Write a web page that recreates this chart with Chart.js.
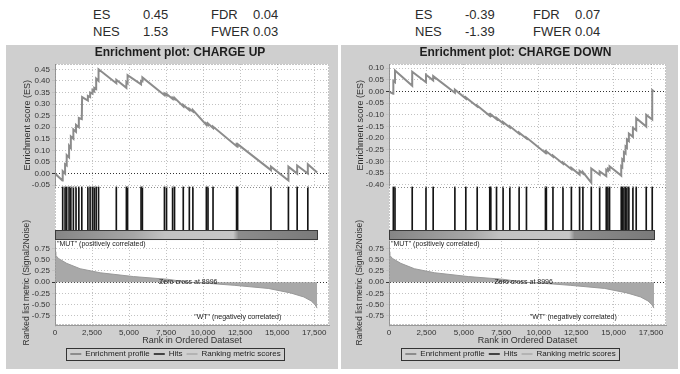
<!DOCTYPE html>
<html lang="en">
<head>
<meta charset="UTF-8">
<meta name="viewport" content="width=device-width, initial-scale=1.0">
<title>Enrichment plots: CHARGE UP / CHARGE DOWN</title>
<script src="https://cdn.jsdelivr.net/npm/chart.js"></script>
<style>
  body { margin: 0; background: #fff; font-family: "Liberation Sans", Arial, sans-serif; }
  #page { position: relative; width: 680px; height: 374px; overflow: hidden; }
  .stat { position: absolute; font-size: 13px; line-height: 16px; color: #2b2b2b; white-space: nowrap; }
  canvas { position: absolute; background: #cfcfcf; }
</style>
</head>
<body>
<div id="page">
  <canvas id="up" width="332" height="324" style="left:6px; top:45px"></canvas>
  <canvas id="down" width="337" height="324" style="left:341px; top:45px"></canvas>
</div>

<script>
    // ranked gene list, shared by both plots
    const listSize = 17700;
    const zeroCross = 8996;
    const metricRanks  = [0, 50, 230, 790, 1700, 3050, 5300, 7600, 8996, 10500, 12100, 14400, 15900, 16800, 17300, 17550, 17700];
    const metricValues = [0.68, 0.60, 0.53, 0.42, 0.30, 0.21, 0.125, 0.065, 0, -0.03, -0.07, -0.14, -0.24, -0.33, -0.42, -0.50, -0.58];

    const xTickValues = [0, 2500, 5000, 7500, 10000, 12500, 15000, 17500];
    const esTicksUp   = [-0.05, 0, 0.05, 0.1, 0.15, 0.2, 0.25, 0.3, 0.35, 0.4, 0.45];
    const esTicksDown = [-0.4, -0.35, -0.3, -0.25, -0.2, -0.15, -0.1, -0.05, 0, 0.05, 0.1];
    const rankTicks   = [-0.75, -0.5, -0.25, 0, 0.25, 0.5, 0.75];

    // CHARGE UP
    const hitsUp = [520, 680, 790, 950, 1070, 1240, 1420, 1610, 1810, 2220, 2370, 2530, 2650, 2780, 2940,
        4140, 4820, 4900, 5810, 5900, 7390, 7530, 7940, 8070, 8660, 9070, 9310, 10220, 10330, 10670,
        12260, 12330, 14580, 15760, 16350, 17070];
    const esUp = [[0, 0], [500, -0.03], [520, 0.01], [680, 0], [680, 0.04], [790, 0.035], [790, 0.08],
        [950, 0.07], [950, 0.12], [1070, 0.11], [1070, 0.16], [1240, 0.15], [1240, 0.19], [1420, 0.18],
        [1420, 0.21], [1610, 0.2], [1610, 0.24], [1810, 0.235], [1830, 0.33], [2220, 0.315], [2220, 0.335],
        [2370, 0.33], [2370, 0.35], [2530, 0.345], [2530, 0.36], [2650, 0.355], [2650, 0.37], [2780, 0.365],
        [2780, 0.41], [2940, 0.4], [2940, 0.45], [4140, 0.39], [4140, 0.405], [4820, 0.37], [4820, 0.395],
        [4900, 0.39], [4900, 0.425], [5810, 0.385], [5810, 0.4], [5900, 0.398], [5900, 0.415],
        [7390, 0.338], [7390, 0.345], [7530, 0.338], [7530, 0.344], [7940, 0.322], [7940, 0.328],
        [8070, 0.322], [8070, 0.327], [8660, 0.29], [8660, 0.296], [9070, 0.274], [9070, 0.28],
        [9310, 0.268], [9310, 0.274], [10220, 0.21], [10220, 0.216], [10330, 0.21], [10330, 0.216],
        [10670, 0.197], [10670, 0.203], [12260, 0.118], [12260, 0.124], [12330, 0.12], [12330, 0.127],
        [14580, 0.015], [14580, 0.03], [15760, -0.03], [15760, 0.03], [16350, 0], [16350, 0.035],
        [17070, 0], [17070, 0.04], [17700, 0.005]];

    // CHARGE DOWN
    const hitsDown = [290, 400, 1550, 2470, 2950, 4400, 5130, 5890, 6730, 6800, 7180, 7620, 8070, 8690, 9180,
        10450, 10510, 10950, 11620, 12180, 12730, 12950, 13510, 14070, 14510, 14620, 14730, 15510, 15580,
        15690, 15800, 15890, 16020, 16290, 16510, 17180, 17580];
    const esDown = [[0, 0], [280, -0.01], [290, 0.045], [400, 0.04], [400, 0.09], [1550, 0.025], [1550, 0.085],
        [2470, 0.04], [2470, 0.072], [2950, 0.048], [2950, 0.066], [4400, -0.005], [4400, 0.008],
        [5130, -0.03], [5130, -0.025], [5890, -0.064], [5890, -0.06], [6730, -0.104], [6730, -0.099],
        [6800, -0.102], [6800, -0.098], [7180, -0.118], [7180, -0.113], [7620, -0.136], [7620, -0.131],
        [8070, -0.154], [8070, -0.149], [8690, -0.181], [8690, -0.176], [9180, -0.201], [9180, -0.197],
        [10450, -0.263], [10450, -0.258], [10510, -0.261], [10510, -0.256], [10950, -0.279], [10950, -0.274],
        [11620, -0.309], [11620, -0.304], [12180, -0.333], [12180, -0.327], [12730, -0.356], [12730, -0.34],
        [12950, -0.351], [12950, -0.345], [13510, -0.39], [13510, -0.33], [14070, -0.357], [14070, -0.342],
        [14510, -0.362], [14510, -0.335], [14620, -0.34], [14620, -0.33], [14730, -0.335], [14730, -0.32],
        [15510, -0.36], [15510, -0.32], [15580, -0.324], [15580, -0.29], [15690, -0.296], [15690, -0.26],
        [15800, -0.266], [15800, -0.235], [15890, -0.24], [15890, -0.205], [16020, -0.212], [16020, -0.18],
        [16290, -0.194], [16290, -0.155], [16510, -0.166], [16510, -0.114], [17180, -0.15], [17180, -0.1],
        [17580, -0.12], [17580, 0.006], [17700, 0]];

    const statNames = [['ES', 'FDR'], ['NES', 'FWER']];
    const statsUp   = [['0.45', '0.04'], ['1.53', '0.03']];
    const statsDown = [['-0.39', '0.07'], ['-1.39', '0.04']];

    const page = document.getElementById('page');
    function addStats(left, values) {
        const cols = [0, 50, 118, 160];
        statNames.forEach((names, row) => {
            [names[0], values[row][0], names[1], values[row][1]].forEach((t, i) => {
                const d = document.createElement('div');
                d.className = 'stat';
                d.textContent = t;
                d.style.left = (left + cols[i]) + 'px';
                d.style.top = (7 + row * 17) + 'px';
                page.appendChild(d);
            });
        });
    }
    addStats(93, statsUp);
    addStats(415, statsDown);

    Chart.defaults.font.family = '"Liberation Sans", Arial, sans-serif';
    Chart.defaults.color = '#333';

    const FONT = '"Liberation Sans", Arial, sans-serif';
    const fmt2 = v => (Math.abs(v) < 1e-9 ? 0 : v).toFixed(2);
    const gridColor = c => (c.tick && c.tick.value === 0 ? '#333' : '#c2c2c2');
    const fixWidth = w => s => { s.width = w; };
    const setTicks = values => s => { s.ticks = values.map(v => ({value: v})); };

    const bandStops = [[0, '#858585'], [0.3, '#a6a6a6'], [0.42, '#c2c2c2'], [0.68, '#c6c6c6'], [0.7, '#8c8c8c'], [1, '#7a7a7a']];
    function bandGradient(context) {
        const chart = context.chart;
        if (!chart.chartArea) return '#aaa';
        const xs = chart.scales.x;
        const g = chart.ctx.createLinearGradient(xs.getPixelForValue(0), 0, xs.getPixelForValue(listSize), 0);
        bandStops.forEach(([p, c]) => g.addColorStop(p, c));
        return g;
    }

    const panelDecor = {
        id: 'panelDecor',
        beforeDraw(chart) {
            const {ctx, chartArea: a} = chart;
            ctx.save();
            ctx.fillStyle = '#fff';
            ctx.fillRect(a.left, a.top, a.width, a.height);
            ctx.restore();
        },
        beforeDatasetsDraw(chart) {
            // no grid behind the hit marks
            const {ctx, chartArea: a, scales} = chart;
            ctx.save();
            ctx.fillStyle = '#fff';
            ctx.fillRect(a.left, scales.yHits.top, a.width, scales.yBar.bottom - scales.yHits.top);
            ctx.restore();
        },
        afterDatasetsDraw(chart, args, opts) {
            const {ctx, chartArea: a, scales: {x, yES, yBar, yRank}} = chart;
            ctx.save();
            ctx.strokeStyle = '#8a8a8a';
            ctx.lineWidth = 1;
            ctx.setLineDash([1, 2]);
            ctx.strokeRect(a.left + 0.5, a.top + 0.5, a.width - 1, a.height - 1);
            ctx.beginPath();
            ctx.moveTo(a.left, Math.round(yES.bottom) + 0.5);
            ctx.lineTo(a.right, Math.round(yES.bottom) + 0.5);
            ctx.stroke();
            ctx.setLineDash([]);

            // outline of the correlation band
            const x0 = Math.round(x.getPixelForValue(0)) + 0.5;
            const x1 = Math.round(x.getPixelForValue(listSize)) + 0.5;
            ctx.strokeStyle = '#3a3a3a';
            ctx.strokeRect(x0, Math.round(yBar.top) + 0.5, x1 - x0, Math.round(yBar.bottom - yBar.top) - 1);

            ctx.fillStyle = '#222';
            ctx.font = '7px ' + FONT;
            ctx.textBaseline = 'middle';
            ctx.textAlign = 'left';
            ctx.fillText('"MUT" (positively correlated)', a.left + 2, yRank.top + 4);
            ctx.textAlign = 'center';
            ctx.fillText('Zero cross at ' + zeroCross, x.getPixelForValue(zeroCross), yRank.getPixelForValue(0));
            ctx.textAlign = 'left';
            ctx.fillText('"WT" (negatively correlated)', x.getPixelForValue(zeroCross) + 6, yRank.getPixelForValue(-0.77));

            ctx.font = 'bold 12px ' + FONT;
            ctx.fillStyle = '#1e1e1e';
            ctx.textAlign = 'center';
            ctx.fillText(opts.text, (a.left + a.right) / 2 - 12, 8);

            const boxes = chart.legend && chart.legend.legendHitBoxes;
            if (boxes && boxes.length) {
                const l = Math.min(...boxes.map(b => b.left)) - 4;
                const r = Math.max(...boxes.map(b => b.left + b.width)) + 4;
                const t = Math.min(...boxes.map(b => b.top)) - 2;
                const btm = Math.max(...boxes.map(b => b.top + b.height)) + 2;
                ctx.strokeStyle = '#333';
                ctx.strokeRect(Math.round(l) + 0.5, Math.round(t) + 0.5, Math.round(r - l), Math.round(btm - t));
            }
            ctx.restore();
        }
    };

    function yAxis(extra, width) {
        return Object.assign({
            type: 'linear',
            position: 'left',
            stack: 'panel',
            afterFit: fixWidth(width),
            ticks: { font: { size: 8 }, color: '#333', padding: 2, autoSkip: false, callback: fmt2 },
            grid: { color: gridColor, tickLength: 3 },
            border: { dash: [1, 2], color: '#999' }
        }, extra);
    }

    function hiddenAxis(extra, width) {
        return Object.assign({
            type: 'linear',
            position: 'left',
            stack: 'panel',
            min: 0,
            max: 1,
            afterFit: fixWidth(width),
            ticks: { display: false },
            grid: { display: false },
            border: { display: false }
        }, extra);
    }

    function buildPanel(id, cfg) {
        const titleFont = { size: 9 };
        return new Chart(document.getElementById(id), {
            type: 'line',
            data: {
                datasets: [
                    {
                        label: 'Enrichment profile',
                        data: cfg.es.map(([x, y]) => ({x, y})),
                        yAxisID: 'yES',
                        borderColor: '#8c8c8c',
                        borderWidth: 2,
                        pointRadius: 0,
                        tension: 0,
                        order: 1
                    },
                    {
                        type: 'bar',
                        label: 'Hits',
                        data: cfg.hits.map(x => ({x, y: 1})),
                        yAxisID: 'yHits',
                        backgroundColor: '#151515',
                        borderColor: '#151515',
                        borderWidth: 0,
                        barThickness: 1,
                        order: 2
                    },
                    {
                        label: 'Ranking metric scores',
                        data: metricRanks.map((x, i) => ({x, y: metricValues[i]})),
                        yAxisID: 'yRank',
                        borderColor: '#999',
                        backgroundColor: '#a8a8a8',
                        borderWidth: 1,
                        pointRadius: 0,
                        fill: 'origin',
                        order: 4
                    },
                    {
                        label: 'band',
                        data: [{x: 0, y: 1}, {x: listSize, y: 1}],
                        yAxisID: 'yBar',
                        borderWidth: 0,
                        backgroundColor: bandGradient,
                        fill: 'origin',
                        pointRadius: 0,
                        order: 3
                    }
                ]
            },
            options: {
                responsive: false,
                animation: false,
                events: [],
                layout: { padding: { top: 19, right: cfg.padRight, bottom: 1, left: cfg.padLeft } },
                plugins: {
                    tooltip: { enabled: false },
                    panelDecor: { text: cfg.title },
                    legend: {
                        position: 'bottom',
                        labels: {
                            usePointStyle: true,
                            pointStyle: 'line',
                            pointStyleWidth: 11,
                            padding: 4,
                            color: '#222',
                            font: { size: 8 },
                            filter: item => item.datasetIndex !== 3,
                            generateLabels(chart) {
                                const items = Chart.defaults.plugins.legend.labels.generateLabels(chart);
                                items.forEach(it => {
                                    if (it.datasetIndex === 1) { it.lineWidth = 1.5; it.strokeStyle = '#151515'; }
                                    if (it.datasetIndex === 2) { it.lineWidth = 1.5; it.strokeStyle = '#aaa'; }
                                });
                                return items;
                            }
                        }
                    }
                },
                scales: {
                    x: {
                        type: 'linear',
                        min: 0,
                        max: 18500,
                        offset: false,
                        afterBuildTicks: setTicks(xTickValues),
                        afterFit: s => { s.height = 21; },
                        ticks: {
                            font: { size: 8 },
                            color: '#333',
                            padding: 1,
                            maxRotation: 0,
                            autoSkip: false,
                            callback: v => v.toLocaleString('en-US')
                        },
                        grid: { color: '#c2c2c2', tickLength: 2, offset: false },
                        border: { dash: [1, 2], color: '#999' },
                        title: { display: true, text: 'Rank in Ordered Dataset', font: titleFont, color: '#333', padding: 0 }
                    },
                    yES: yAxis({
                        stackWeight: 123,
                        weight: 4,
                        min: cfg.esMin,
                        max: cfg.esMax,
                        afterBuildTicks: setTicks(cfg.esTicks),
                        title: { display: true, text: 'Enrichment score (ES)', font: titleFont, color: '#333', padding: 0 }
                    }, cfg.axisWidth),
                    yHits: hiddenAxis({ stackWeight: 44, weight: 3 }, cfg.axisWidth),
                    yBar: hiddenAxis({ stackWeight: 10, weight: 2 }, cfg.axisWidth),
                    yRank: yAxis({
                        stackWeight: 85,
                        weight: 1,
                        min: -0.957,
                        max: 0.935,
                        afterBuildTicks: setTicks(rankTicks),
                        title: { display: true, text: 'Ranked list metric (Signal2Noise)', font: { size: 8.5 }, color: '#333', padding: 0 }
                    }, cfg.axisWidth)
                }
            },
            plugins: [panelDecor]
        });
    }

    buildPanel('up', {
        title: 'Enrichment plot: CHARGE UP',
        es: esUp, hits: hitsUp,
        esMin: -0.056, esMax: 0.473, esTicks: esTicksUp,
        padLeft: 16, axisWidth: 33, padRight: 9
    });
    buildPanel('down', {
        title: 'Enrichment plot: CHARGE DOWN',
        es: esDown, hits: hitsDown,
        esMin: -0.407, esMax: 0.118, esTicks: esTicksDown,
        padLeft: 14, axisWidth: 34, padRight: 12
    });
</script>
</body>
</html>
